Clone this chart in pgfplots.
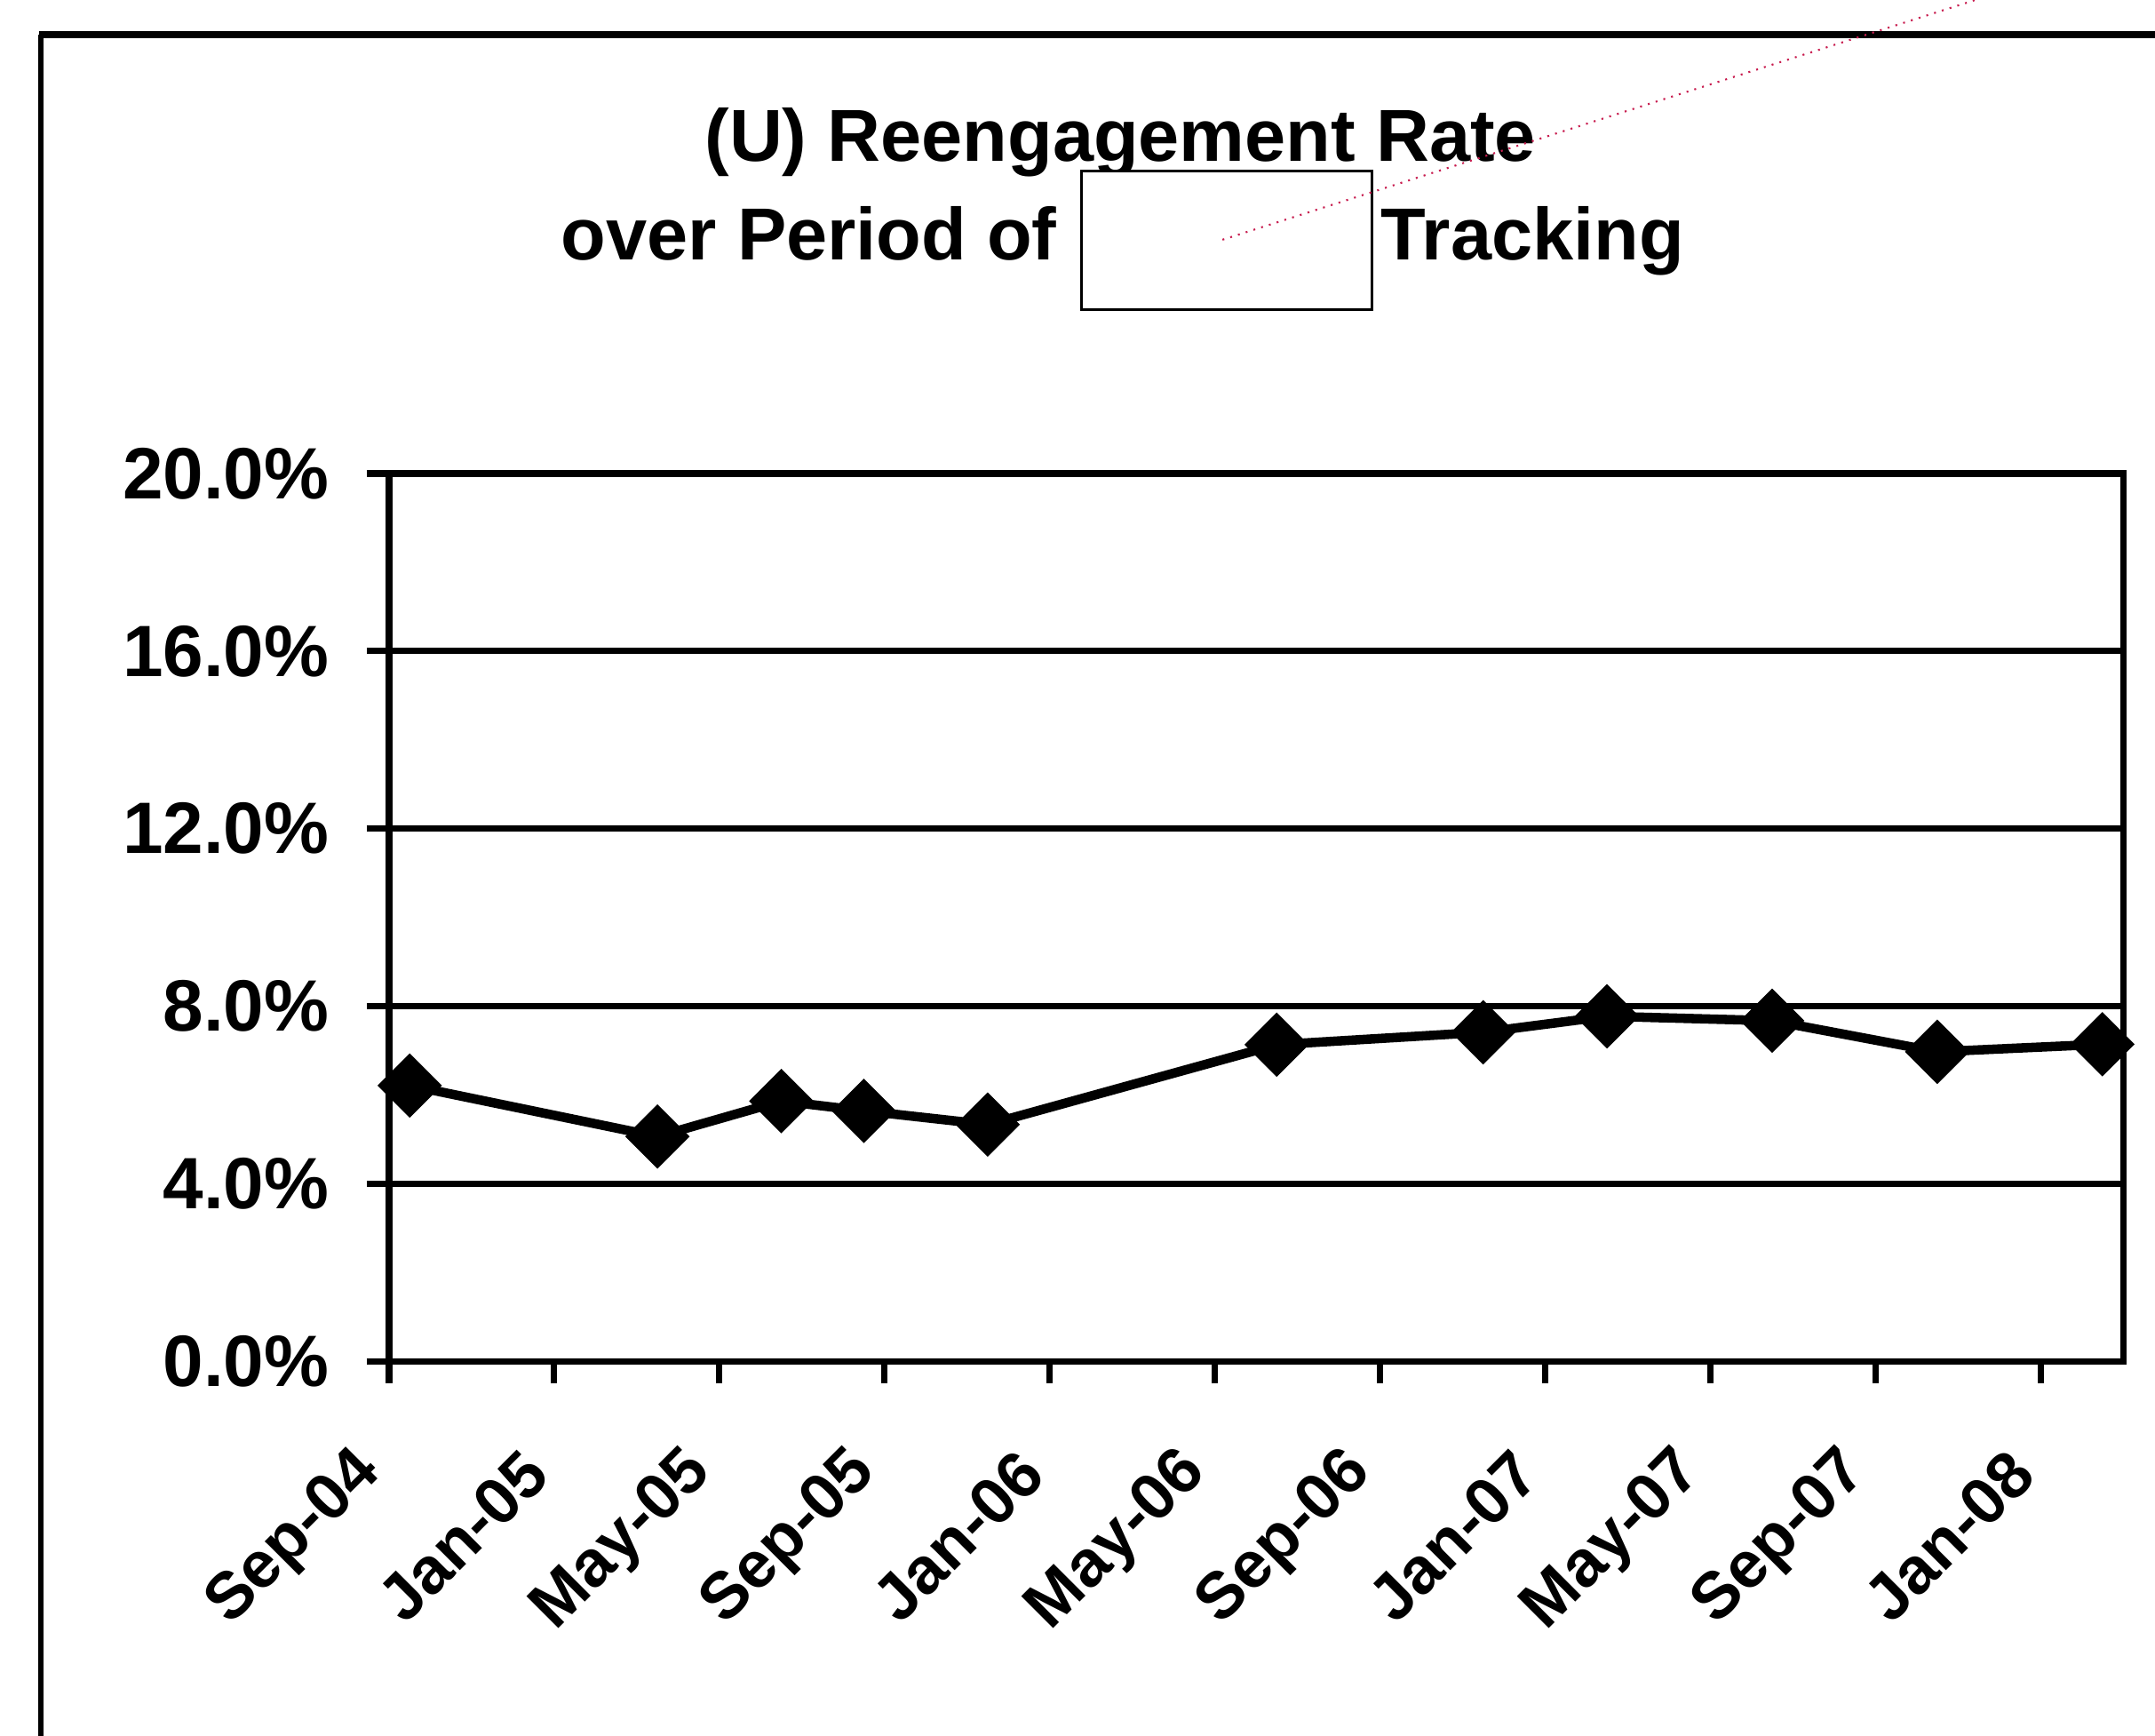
\documentclass[border=0pt]{standalone}
\usepackage{pgfplots}
\pgfplotsset{compat=1.18}
\usepackage{fontspec}
\setmainfont{Liberation Sans}
\definecolor{redmark}{RGB}{200,30,80}
\begin{document}
\begin{tikzpicture}
\useasboundingbox (0,0) rectangle (24.26cm,19.53cm);
\begin{axis}[
  at={(4.38cm,4.21cm)}, anchor=south west,
  scale only axis, width=19.52cm, height=9.99cm,
  xmin=0, xmax=42, ymin=0, ymax=20,
  axis line style={line width=2pt, black},
  ymajorgrids, grid style={line width=2pt, black},
  ytick={0,4,8,12,16,20},
  xtick={0,4,8,12,16,20,24,28,32,36,40},
  xticklabels={Sep-04,Jan-05,May-05,Sep-05,Jan-06,May-06,Sep-06,Jan-07,May-07,Sep-07,Jan-08},
  tick align=outside, major tick length=0.25cm,
  tick style={line width=2pt, black},
  tick pos=left,
  /pgf/number format/assume math mode=true,
  yticklabel={\pgfmathprintnumber[fixed,fixed zerofill,precision=1]{\tick}\%},
  yticklabel style={font=\fontsize{23.3}{28}\selectfont\bfseries, inner sep=0pt, anchor=east, xshift=-0.42cm},
  xticklabel style={font=\fontsize{21}{26}\selectfont\bfseries, inner sep=0pt, yshift=-0.89cm, xshift=-0.2cm, rotate=45, anchor=east},
  clip=false,
]
\addplot[black, line width=3pt, mark=square*, mark size=5.8pt, mark options={rotate=45, solid, fill=black}]
coordinates {
(0.5,6.21) (6.5,5.06) (9.5,5.86) (11.5,5.64) (14.5,5.33) (21.5,7.13)
(26.5,7.41) (29.5,7.77) (33.5,7.67) (37.5,6.97) (41.5,7.14)
};
\end{axis}
\begin{scope}[x=0.01cm, y=-0.01cm, shift={(0,19.53cm)}]
\draw[line width=2.3pt] (44,39) -- (2440,39);
\draw[line width=1.5pt] (46,39) -- (46,1960);
\node[anchor=base, font=\fontsize{23.6}{28}\selectfont\bfseries, inner sep=0pt] at (1262,182) {(U) Reengagement Rate};
\node[anchor=base east, font=\fontsize{23.6}{28}\selectfont\bfseries, inner sep=0pt] at (1191,293) {over Period of};
\node[anchor=base west, font=\fontsize{23.6}{28}\selectfont\bfseries, inner sep=0pt] at (1555,293) {Tracking};
\draw[line width=0.8pt, fill=white] (1218,193) rectangle (1545,349);
\draw[redmark, line width=0.6pt, dotted] (1377,270) -- (2225,0);
\end{scope}
\end{tikzpicture}
\end{document}
